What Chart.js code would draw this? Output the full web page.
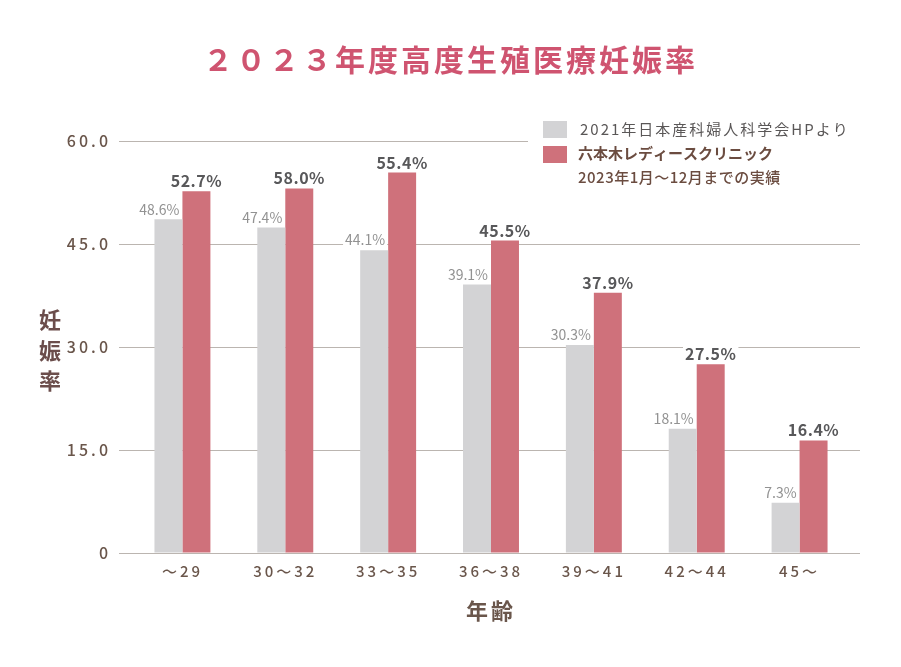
<!DOCTYPE html>
<html lang="ja">
<head>
<meta charset="utf-8">
<title>2023年度高度生殖医療妊娠率</title>
<script src="https://cdn.jsdelivr.net/npm/chart.js@4.4.1/dist/chart.umd.min.js"></script>
<style>
  html, body { margin: 0; padding: 0; background: #fff; }
  #wrap { width: 901px; height: 667px; }
</style>
</head>
<body>
<div id="wrap"><canvas id="chart" width="901" height="667"></canvas></div>
<script>
var chartTitle = "２０２３年度高度生殖医療妊娠率";
var ageGroups = ["～29", "30～32", "33～35", "36～38", "39～41", "42～44", "45～"];
var jsogRates = [48.6, 47.4, 44.1, 39.1, 30.3, 18.1, 7.3];
// bar heights as drawn in the picture (the 30～32 bar stops near 53 although it is labelled 58.0%)
var clinicBars = [52.7, 53.1, 55.4, 45.5, 37.9, 27.5, 16.4];
var clinicRates = [52.7, 58.0, 55.4, 45.5, 37.9, 27.5, 16.4];
var yTickLabels = ["0", "15.0", "30.0", "45.0", "60.0"];
var jsogLabel = "2021年日本産科婦人科学会HPより";
var clinicLabel = ["六本木レディースクリニック", "2023年1月～12月までの実績"];
var yTitle = ["妊", "娠", "率"];
var xTitle = "年齢";

var FONT = "'Noto Sans CJK JP', 'Noto Sans', sans-serif";
var BROWN = "#6a564b";
var GRID = "#bbb5b0";
var GRAY_BAR = "#d3d3d5";
var RED_BAR = "#cf717b";

// letter spacing only while scales + title are drawn
var spacing = {
  id: "spacing",
  beforeDraw: function (chart) {
    chart.ctx.letterSpacing = "3px";
  },
  beforeDatasetsDraw: function (chart) {
    var ctx = chart.ctx, area = chart.chartArea, y = chart.scales.y;
    ctx.letterSpacing = "0px";
    // gridlines run a little past the plot on the right
    ctx.save();
    ctx.strokeStyle = GRID;
    ctx.lineWidth = 1;
    y.ticks.forEach(function (t) {
      if (t.value >= 60) return;
      var py = Math.round(y.getPixelForValue(t.value)) + 0.5;
      ctx.beginPath();
      ctx.moveTo(area.right, py);
      ctx.lineTo(860, py);
      ctx.stroke();
    });
    ctx.restore();
  }
};

function labelWithBg(ctx, text, x, y, align) {
  var w = ctx.measureText(text).width;
  var left = align === "right" ? x - w : x - w / 2;
  ctx.fillStyle = "#fff";
  ctx.fillRect(left - 2, y - 9, w + 4, 18);
}

var barLabels = {
  id: "barLabels",
  afterDatasetsDraw: function (chart) {
    var ctx = chart.ctx;
    ctx.save();
    ctx.textBaseline = "middle";

    // legend (white box hides top gridline)
    ctx.fillStyle = "#fff";
    ctx.fillRect(528, 113, 352, 80);
    ctx.fillStyle = GRAY_BAR;
    ctx.fillRect(543, 121, 24, 17);
    ctx.fillStyle = RED_BAR;
    ctx.fillRect(543, 146, 24, 17);
    ctx.textAlign = "left";
    ctx.letterSpacing = "2px";
    ctx.font = "15px " + FONT;
    ctx.fillStyle = "#5a5757";
    ctx.fillText(jsogLabel, 580, 129);
    ctx.letterSpacing = "0px";
    ctx.font = "bold 15px " + FONT;
    ctx.fillStyle = "#6b4c40";
    ctx.fillText(clinicLabel[0], 578, 153);
    ctx.letterSpacing = "0.5px";
    ctx.font = "500 15px " + FONT;
    ctx.fillText(clinicLabel[1], 578, 177);

    // gray labels
    ctx.letterSpacing = "0px";
    ctx.font = "14px " + FONT;
    chart.getDatasetMeta(0).data.forEach(function (bar, i) {
      var txt = jsogRates[i].toFixed(1) + "%";
      var x = bar.x + bar.width / 2 - 3, y = bar.y - 10;
      labelWithBg(ctx, txt, x, y, "right");
      ctx.fillStyle = "#929292";
      ctx.textAlign = "right";
      ctx.fillText(txt, x, y);
    });
    // clinic labels
    ctx.letterSpacing = "0.5px";
    ctx.font = "bold 16px " + FONT;
    chart.getDatasetMeta(1).data.forEach(function (bar, i) {
      var txt = clinicRates[i].toFixed(1) + "%";
      var x = bar.x, y = bar.y - 10;
      labelWithBg(ctx, txt, x, y, "center");
      ctx.fillStyle = "#58585a";
      ctx.textAlign = "center";
      ctx.fillText(txt, x, y);
    });

    // vertical y title
    ctx.letterSpacing = "0px";
    ctx.font = "bold 22px " + FONT;
    ctx.fillStyle = "#6b4d4b";
    ctx.textAlign = "center";
    yTitle.forEach(function (ch, i) {
      ctx.fillText(ch, 50, 320 + i * 30.5);
    });
    ctx.restore();
  }
};

var chart = new Chart(document.getElementById("chart"), {
  type: "bar",
  data: {
    labels: ageGroups,
    datasets: [
      { label: jsogLabel, data: jsogRates, backgroundColor: GRAY_BAR },
      { label: clinicLabel.join(" "), data: clinicBars, backgroundColor: RED_BAR }
    ]
  },
  options: {
    responsive: false,
    animation: false,
    devicePixelRatio: 1,
    categoryPercentage: 0.544,
    barPercentage: 1.0,
    layout: { padding: { left: 50, right: 50, top: 0, bottom: 0 } },
    plugins: {
      legend: { display: false },
      tooltip: { enabled: false },
      title: {
        display: true,
        text: chartTitle,
        color: "#cf5470",
        font: { family: FONT, size: 30, weight: "bold" },
        padding: { top: 42, bottom: 63 }
      }
    },
    scales: {
      x: {
        grid: { display: false, drawTicks: false },
        border: { display: false },
        ticks: {
          color: BROWN,
          font: { family: FONT, size: 15, weight: "500" },
          padding: 9,
          autoSkip: false,
          maxRotation: 0
        },
        title: {
          display: true,
          text: xTitle,
          color: BROWN,
          font: { family: FONT, size: 22, weight: "bold" },
          padding: { top: 0, bottom: 43 }
        },
        afterFit: function (s) { s.height = 114; }
      },
      y: {
        min: 0,
        max: 60,
        grid: { color: GRID, tickColor: GRID, tickLength: 12, lineWidth: 1 },
        border: { display: false },
        ticks: {
          stepSize: 15,
          color: BROWN,
          font: { family: FONT, size: 16, weight: "500" },
          padding: 8,
          callback: function (v, i) { return yTickLabels[i]; }
        },
        afterFit: function (s) { s.width = 81; }
      }
    }
  },
  plugins: [spacing, barLabels]
});
</script>
</body>
</html>
